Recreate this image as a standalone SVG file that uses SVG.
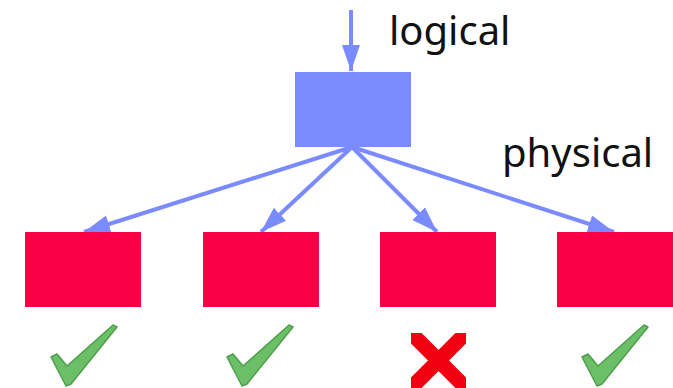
<svg xmlns="http://www.w3.org/2000/svg" width="673" height="388" viewBox="0 0 673 388">
<style>
.blue{fill:#7A8BFF}
.red{fill:#F80046}
.conn{stroke:#7A8BFF;stroke-width:4;fill:none}
.lbl{font-family:"Noto Sans","Open Sans",sans-serif;font-size:40px;fill:#111}
.check{fill:#6BBF66;stroke:#4E9E4C;stroke-width:1.5;stroke-linejoin:round}
</style>
<defs>
<marker id="ah" markerUnits="userSpaceOnUse" markerWidth="28" markerHeight="20" refX="26" refY="10" orient="auto" viewBox="0 0 28 20">
<path d="M0,1 L26,10 L0,19 Z" fill="#7A8BFF"/>
</marker>
<clipPath id="xclip"><rect x="411" y="333" width="55" height="55"/></clipPath>
<path id="chk" d="M0,32 L6,29 L16,41 L62,0 L66,2 L20,59 L15,61 Z"/>
</defs>
<g id="labels">
<text class="lbl" x="389" y="45">logical</text>
<text class="lbl" x="502" y="167">physical</text>
</g>
<g id="connectors">
<path class="conn" d="M351,10 L351,71" marker-end="url(#ah)"/>
<path class="conn" d="M352,147 L84,232" marker-end="url(#ah)"/>
<path class="conn" d="M352,147 L261,232" marker-end="url(#ah)"/>
<path class="conn" d="M352,147 L437,232" marker-end="url(#ah)"/>
<path class="conn" d="M352,147 L614,232" marker-end="url(#ah)"/>
</g>
<g id="logical"><rect class="blue" x="295" y="72" width="116" height="75"/></g>
<g id="phys1"><rect class="red" x="25" y="232" width="116" height="75"/></g>
<g id="phys2"><rect class="red" x="203" y="232" width="116" height="75"/></g>
<g id="phys3"><rect class="red" x="380" y="232" width="116" height="75"/></g>
<g id="phys4"><rect class="red" x="557" y="232" width="116" height="75"/></g>
<g id="check1"><use href="#chk" class="check" transform="translate(51,325)"/></g>
<g id="check2"><use href="#chk" class="check" transform="translate(227,325)"/></g>
<g id="cross3" clip-path="url(#xclip)">
<path d="M408,330 L469,391 M469,330 L408,391" stroke="#F00010" stroke-width="15" fill="none"/>
</g>
<g id="check4"><use href="#chk" class="check" transform="translate(582,325)"/></g>
</svg>
